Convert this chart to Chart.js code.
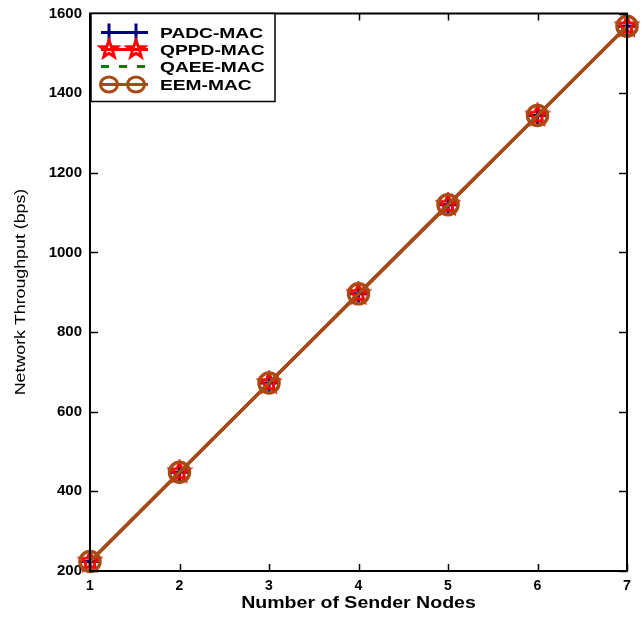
<!DOCTYPE html>
<html>
<head>
<meta charset="utf-8">
<script src="https://cdn.jsdelivr.net/npm/chart.js@4.4.1/dist/chart.umd.min.js"></script>
<style>
    html, body { margin: 0; padding: 0; background: #fff; }
    canvas { display: block; }
</style>
</head>
<body>
<canvas id="throughputChart" width="642" height="617"></canvas>
<script>
// Данные графика
const senderNodes = [1, 2, 3, 4, 5, 6, 7];
const padcMac = [224, 448, 672, 896, 1120, 1344, 1568];
const qppdMac = [224, 448, 672, 896, 1120, 1344, 1568];
const qaeeMac = [224, 448, 672, 896, 1120, 1344, 1568];
const eemMac = [224, 448, 672, 896, 1120, 1344, 1568];
const seriesNames = ['PADC-MAC', 'QPPD-MAC', 'QAEE-MAC', 'EEM-MAC'];
const xTicks = [1, 2, 3, 4, 5, 6, 7];
const yTicks = [200, 400, 600, 800, 1000, 1200, 1400, 1600];

const NAVY = '#00007f';
const RED = '#ff0000';
const GREEN = '#008000';
const BROWN = '#a84a14';
const FONT = '"Liberation Sans", Arial, sans-serif';

// Звезда (контур) для маркеров QPPD-MAC
function drawStarPath(ctx, cx, cy, R, r) {
    ctx.beginPath();
    for (let i = 0; i < 10; i++) {
        const rad = i % 2 === 0 ? R : r;
        const a = -Math.PI / 2 + i * Math.PI / 5;
        const px = cx + rad * Math.cos(a);
        const py = cy + rad * Math.sin(a);
        if (i === 0) ctx.moveTo(px, py); else ctx.lineTo(px, py);
    }
    ctx.closePath();
}

function makeStar(color, R, lw) {
    const c = document.createElement('canvas');
    const s = Math.ceil(2 * R + 2 * lw);
    c.width = s;
    c.height = s;
    const g = c.getContext('2d');
    g.strokeStyle = color;
    g.lineWidth = lw;
    g.lineJoin = 'miter';
    drawStarPath(g, s / 2, s / 2, R, R * 0.42);
    g.stroke();
    return c;
}

const starImg = makeStar(RED, 10, 3);

function toPoints(values) {
    return values.map((v, i) => ({ x: senderNodes[i], y: v }));
}

// Легенда, рамка, засечки внутрь и подписи осей
const decorPlugin = {
    id: 'decor',
    afterDraw(chart) {
        const ctx = chart.ctx;
        const area = chart.chartArea;
        const xs = chart.scales.x;
        const ys = chart.scales.y;
        ctx.save();

        // засечки
        ctx.strokeStyle = '#000';
        ctx.lineWidth = 1.5;
        xTicks.forEach(v => {
            const px = Math.round(xs.getPixelForValue(v)) + 0.5;
            ctx.beginPath();
            ctx.moveTo(px, area.bottom);
            ctx.lineTo(px, area.bottom - 7);
            ctx.moveTo(px, area.top);
            ctx.lineTo(px, area.top + 7);
            ctx.stroke();
        });
        yTicks.forEach(v => {
            const py = Math.round(ys.getPixelForValue(v)) + 0.5;
            ctx.beginPath();
            ctx.moveTo(area.left, py);
            ctx.lineTo(area.left + 8, py);
            ctx.moveTo(area.right, py);
            ctx.lineTo(area.right - 8, py);
            ctx.stroke();
        });

        // рамка
        ctx.lineWidth = 2;
        ctx.strokeRect(area.left, area.top, area.right - area.left, area.bottom - area.top);

        // легенда
        const lx = area.left + 1, ly = area.top, lw = 184, lh = 88;
        ctx.fillStyle = '#fff';
        ctx.fillRect(lx, ly, lw, lh);
        ctx.lineWidth = 1.5;
        ctx.strokeStyle = '#000';
        ctx.strokeRect(lx, ly, lw, lh);

        const rows = [19, 36, 53, 71];
        const x1 = area.left + 11, x2 = area.left + 58;
        const m1 = area.left + 19, m2 = area.left + 46;
        rows.forEach((ry, i) => {
            const y = ly + ry;
            ctx.setLineDash([]);
            if (i === 0) {
                ctx.strokeStyle = NAVY;
                ctx.lineWidth = 3;
                ctx.beginPath();
                ctx.moveTo(x1, y); ctx.lineTo(x2, y);
                [m1, m2].forEach(m => { ctx.moveTo(m, y - 9); ctx.lineTo(m, y + 9); });
                ctx.stroke();
            } else if (i === 1) {
                ctx.strokeStyle = RED;
                ctx.lineWidth = 3;
                ctx.beginPath();
                ctx.moveTo(x1, y); ctx.lineTo(x2, y);
                ctx.stroke();
                [m1, m2].forEach(m => { drawStarPath(ctx, m, y, 9, 3.8); ctx.stroke(); });
            } else if (i === 2) {
                ctx.strokeStyle = GREEN;
                ctx.lineWidth = 3;
                ctx.setLineDash([8, 10]);
                ctx.beginPath();
                ctx.moveTo(x1, y); ctx.lineTo(x2, y);
                ctx.stroke();
                ctx.setLineDash([]);
            } else {
                ctx.strokeStyle = BROWN;
                ctx.lineWidth = 3;
                ctx.beginPath();
                ctx.moveTo(x1, y); ctx.lineTo(x2, y);
                ctx.stroke();
                [m1, m2].forEach(m => { ctx.beginPath(); ctx.ellipse(m, y, 8.5, 7.5, 0, 0, Math.PI * 2); ctx.stroke(); });
            }
            ctx.save();
            ctx.translate(area.left + 70, y + 1);
            ctx.scale(1.28, 1);
            ctx.fillStyle = '#000';
            ctx.font = 'bold 15px ' + FONT;
            ctx.textAlign = 'left';
            ctx.textBaseline = 'middle';
            ctx.fillText(seriesNames[i], 0, 0);
            ctx.restore();
        });

        // подписи осей
        ctx.fillStyle = '#000';
        ctx.textAlign = 'center';
        ctx.textBaseline = 'middle';
        ctx.save();
        ctx.translate((area.left + area.right) / 2, 603);
        ctx.scale(1.15, 1);
        ctx.font = 'bold 17px ' + FONT;
        ctx.fillText('Number of Sender Nodes', 0, 0);
        ctx.restore();

        ctx.save();
        ctx.translate(21, 292);
        ctx.rotate(-Math.PI / 2);
        ctx.scale(1.27, 1);
        ctx.font = '14px ' + FONT;
        ctx.fillText('Network Throughput (bps)', 0, 0);
        ctx.restore();

        ctx.restore();
    }
};

const ctx = document.getElementById('throughputChart').getContext('2d');

new Chart(ctx, {
    type: 'line',
    data: {
        datasets: [
            {
                label: seriesNames[0],
                data: toPoints(padcMac),
                borderColor: NAVY,
                borderWidth: 3,
                pointStyle: 'cross',
                pointRadius: 9,
                pointBorderWidth: 3,
                pointBorderColor: NAVY,
                order: 4,
                clip: false
            },
            {
                label: seriesNames[1],
                data: toPoints(qppdMac),
                borderColor: RED,
                borderWidth: 3,
                pointStyle: starImg,
                pointRadius: 10,
                order: 3,
                clip: false
            },
            {
                label: seriesNames[2],
                data: toPoints(qaeeMac),
                borderColor: GREEN,
                borderWidth: 3,
                borderDash: [8, 10],
                pointRadius: 0,
                order: 2,
                clip: false
            },
            {
                label: seriesNames[3],
                data: toPoints(eemMac),
                borderColor: BROWN,
                borderWidth: 3.5,
                pointStyle: 'circle',
                pointRadius: 10,
                pointBorderWidth: 3.5,
                pointBorderColor: BROWN,
                pointBackgroundColor: 'rgba(0,0,0,0)',
                order: 1,
                clip: false
            }
        ]
    },
    options: {
        responsive: false,
        animation: false,
        layout: { padding: { top: 12, right: 15, left: 0, bottom: 0 } },
        plugins: {
            legend: { display: false },
            tooltip: { enabled: false }
        },
        scales: {
            x: {
                type: 'linear',
                min: 1,
                max: 7,
                afterFit: scale => { scale.height = 46; },
                afterBuildTicks: scale => { scale.ticks = xTicks.map(v => ({ value: v })); },
                grid: { display: false, drawTicks: false },
                border: { display: false },
                ticks: {
                    padding: 7,
                    color: '#000',
                    callback: v => String(v),
                    font: { family: FONT, size: 14, weight: 'bold' }
                }
            },
            y: {
                type: 'linear',
                min: 200,
                max: 1600,
                afterFit: scale => {
                    scale.width = 90;
                    scale.paddingTop = 0;
                    scale.paddingBottom = 0;
                },
                afterBuildTicks: scale => { scale.ticks = yTicks.map(v => ({ value: v })); },
                grid: { display: false, drawTicks: false },
                border: { display: false },
                ticks: {
                    padding: 8,
                    color: '#000',
                    callback: v => String(v),
                    font: { family: FONT, size: 15, weight: 'bold' }
                }
            }
        }
    },
    plugins: [decorPlugin]
});
</script>
</body>
</html>
